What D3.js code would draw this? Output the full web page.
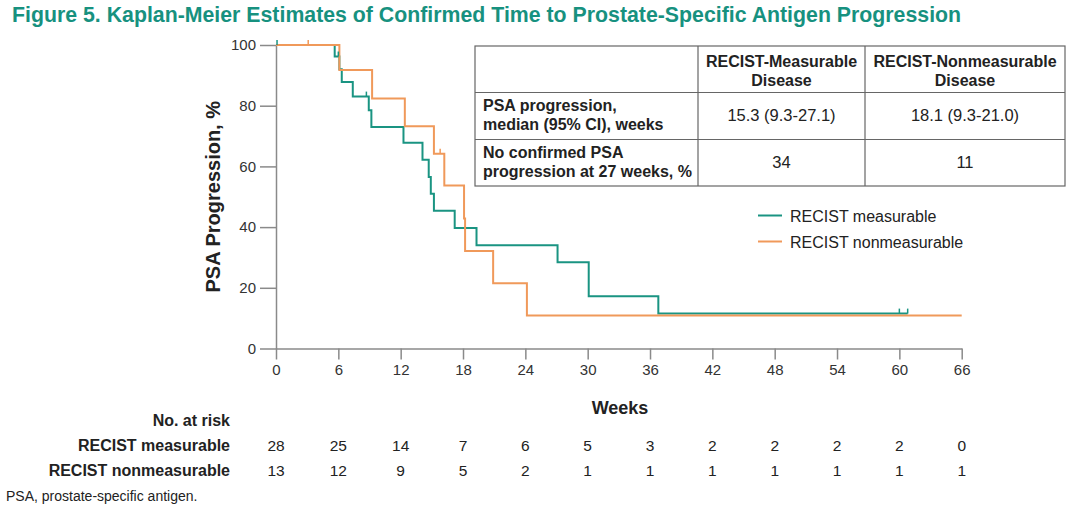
<!DOCTYPE html>
<html>
<head>
<meta charset="utf-8">
<script src="https://cdn.jsdelivr.net/npm/d3@7"></script>
<style>
  body { margin:0; background:#fff; }
  svg text { font-family: "Liberation Sans", Arial, sans-serif; fill:#222; }
  .title { font-weight:bold; font-size:21.3px; fill:#17917f; }
  .axis text { font-size:15px; fill:#333; }
  .axis path, .axis line { stroke:#8a8a8a; stroke-width:1.5; }
  .axtitle { font-weight:bold; font-size:20px; }
  .tbl { font-size:16.5px; }
  .tblb { font-weight:bold; font-size:16px; }
  .risk { font-size:15.5px; }
  .riskb { font-weight:bold; font-size:16px; }
</style>
</head>
<body>
<svg id="chart" width="1080" height="519"></svg>
<script>
// Data
var xTicks = [0, 6, 12, 18, 24, 30, 36, 42, 48, 54, 60, 66];
var yTicks = [0, 20, 40, 60, 80, 100];

// [week, % without progression]
var measurable = [[0,100],[5.65,96.2],[6.1,92],[6.33,87.8],[7.39,83],[8.93,78.5],[9.18,73],[12.27,67.8],
                  [14.1,62.2],[14.7,56.5],[14.9,51],[15.2,45.4],[17.2,39.7],[19.3,34],[27.1,28.4],
                  [30.1,17.2],[36.8,11.5],[60.8,11.5]];
var nonmeasurable = [[0,100],[6.1,91.8],[9.25,82.4],[12.4,73.2],[15.2,64.2],[16.2,53.7],[18.1,42.8],
                     [18.2,32.1],[20.9,21.5],[24.15,10.9],[66,10.9]];
var censorMeas = [[0.1,100],[6.0,96.2],[8.7,83],[60.0,11.5],[60.8,11.5]];
var censorNon = [[3.1,100],[15.8,64.2]];

var riskMeas = [28, 25, 14, 7, 6, 5, 3, 2, 2, 2, 2, 0];
var riskNon  = [13, 12, 9, 5, 2, 1, 1, 1, 1, 1, 1, 1];

var seriesNames = ["RECIST measurable", "RECIST nonmeasurable"];
var seriesColors = ["#1a9482", "#f0995a"];

var tblHeader = [["RECIST-Measurable", "Disease"], ["RECIST-Nonmeasurable", "Disease"]];
var tblRows = [["PSA progression,", "median (95% CI), weeks"], ["No confirmed PSA", "progression at 27 weeks, %"]];
var tblVals = [["15.3 (9.3-27.1)", "18.1 (9.3-21.0)"], ["34", "11"]];

var svg = d3.select("#chart");

// Layout
var plot = { left:276, right:961.7, top:45, bottom:348.5 };

var x = d3.scaleLinear().domain([0, 66]).range([plot.left, plot.right]);
var y = d3.scaleLinear().domain([0, 100]).range([plot.bottom, plot.top]);

// Title
svg.append("text").attr("class", "title").attr("x", 12).attr("y", 22)
   .text("Figure 5. Kaplan-Meier Estimates of Confirmed Time to Prostate-Specific Antigen Progression");

// Axes
svg.append("g").attr("class", "axis")
   .attr("transform", "translate(0," + plot.bottom + ")")
   .call(d3.axisBottom(x).tickValues(xTicks).tickSize(11).tickPadding(5).tickSizeOuter(0));
svg.append("g").attr("class", "axis")
   .attr("transform", "translate(" + plot.left + ",0)")
   .call(d3.axisLeft(y).tickValues(yTicks).tickSize(16).tickPadding(4).tickSizeOuter(0));

svg.append("text").attr("class", "axtitle")
   .attr("transform", "translate(220," + ((plot.top + plot.bottom) / 2) + ") rotate(-90)")
   .attr("text-anchor", "middle")
   .text("PSA Progression, %");
svg.append("text").attr("class", "axtitle").attr("x", 620).attr("y", 414)
   .attr("text-anchor", "middle").style("font-size", "18px").text("Weeks");

// KM curves
var line = d3.line().x(function(d) { return x(d[0]); }).y(function(d) { return y(d[1]); })
             .curve(d3.curveStepAfter);
[measurable, nonmeasurable].forEach(function(s, i) {
  svg.append("path").datum(s)
     .attr("d", line)
     .attr("fill", "none")
     .attr("stroke", seriesColors[i])
     .attr("stroke-width", 2);
});
[censorMeas, censorNon].forEach(function(c, i) {
  svg.selectAll(null).data(c).enter().append("line")
     .attr("x1", function(d) { return x(d[0]); })
     .attr("x2", function(d) { return x(d[0]); })
     .attr("y1", function(d) { return y(d[1]); })
     .attr("y2", function(d) { return y(d[1]) - 5; })
     .attr("stroke", seriesColors[i])
     .attr("stroke-width", 1.5);
});

// Legend
var leg = svg.append("g");
seriesNames.forEach(function(n, i) {
  var ly = 215.5 + i * 26;
  leg.append("line").attr("x1", 758).attr("x2", 782).attr("y1", ly).attr("y2", ly)
     .attr("stroke", seriesColors[i]).attr("stroke-width", 2);
  leg.append("text").attr("x", 790).attr("y", ly + 6).style("font-size", "16px").text(n);
});

// Table
var colX = [475, 698, 865, 1065];
var rowY = [46, 92.5, 139.5, 186];
var tbl = svg.append("g");
tbl.append("rect").attr("x", colX[0]).attr("y", rowY[0])
   .attr("width", colX[3] - colX[0]).attr("height", rowY[3] - rowY[0])
   .attr("fill", "#fff").attr("stroke", "#666").attr("stroke-width", 1.2);
[1, 2].forEach(function(c) {
  tbl.append("line").attr("x1", colX[c]).attr("x2", colX[c]).attr("y1", rowY[0]).attr("y2", rowY[3])
     .attr("stroke", "#666").attr("stroke-width", 1.2);
  tbl.append("line").attr("x1", colX[0]).attr("x2", colX[3]).attr("y1", rowY[c]).attr("y2", rowY[c])
     .attr("stroke", "#666").attr("stroke-width", 1.2);
});
tblHeader.forEach(function(h, c) {
  var cx = (colX[c + 1] + colX[c + 2]) / 2;
  h.forEach(function(t, k) {
    tbl.append("text").attr("class", "tblb").attr("x", cx).attr("y", 66.5 + k * 19)
       .attr("text-anchor", "middle").text(t);
  });
});
tblRows.forEach(function(r, j) {
  r.forEach(function(t, k) {
    tbl.append("text").attr("class", "tblb").attr("x", 483).attr("y", rowY[j + 1] + 18 + k * 19.5).text(t);
  });
  tblVals[j].forEach(function(v, c) {
    var cx = (colX[c + 1] + colX[c + 2]) / 2;
    tbl.append("text").attr("class", "tbl").attr("x", cx).attr("y", rowY[j + 1] + 28.5)
       .attr("text-anchor", "middle").text(v);
  });
});

// Number at risk
svg.append("text").attr("class", "riskb").attr("x", 230).attr("y", 426).attr("text-anchor", "end").text("No. at risk");
[riskMeas, riskNon].forEach(function(r, i) {
  var ry = 450.5 + i * 25;
  svg.append("text").attr("class", "riskb").attr("x", 230).attr("y", ry)
     .attr("text-anchor", "end").text(seriesNames[i]);
  svg.selectAll(null).data(r).enter().append("text").attr("class", "risk")
     .attr("x", function(d, k) { return x(xTicks[k]); })
     .attr("y", ry).attr("text-anchor", "middle")
     .text(function(d) { return d; });
});

// Footnote
svg.append("text").attr("x", 6).attr("y", 501).style("font-size", "14px").text("PSA, prostate-specific antigen.");
</script>
</body>
</html>
